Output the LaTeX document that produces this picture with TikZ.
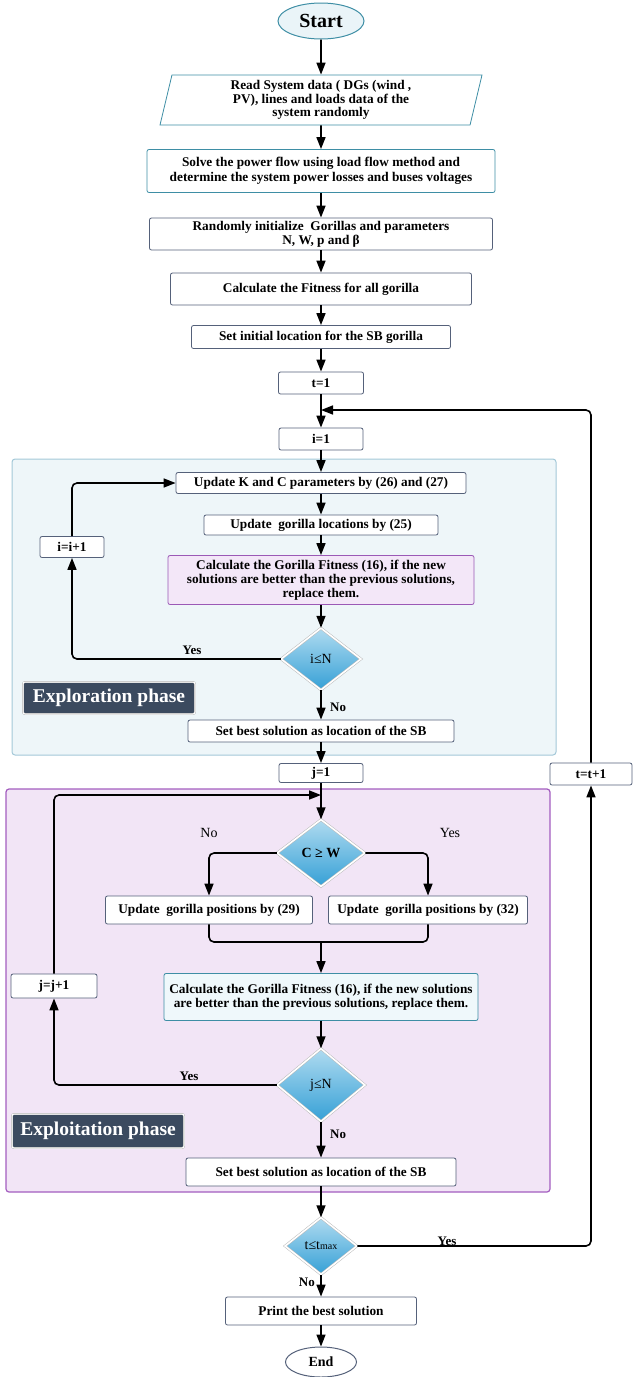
\documentclass[tikz,border=0pt]{standalone}
\usepackage{fontspec}
\setmainfont{Liberation Serif}
\usetikzlibrary{positioning,shapes.geometric,arrows.meta}

\definecolor{boxline}{HTML}{55617A}
\definecolor{tealline}{HTML}{3E8EA5}
\definecolor{startfill}{HTML}{EAF4F8}
\definecolor{purpleline}{HTML}{9B59B6}
\definecolor{purplefill}{HTML}{F3E7F8}
\definecolor{calcfill}{HTML}{EFF8FB}
\definecolor{explfill}{HTML}{EEF6F9}
\definecolor{explline}{HTML}{A3C8D8}
\definecolor{exploitfill}{HTML}{F2E5F6}
\definecolor{exploitline}{HTML}{A35DBF}
\definecolor{phasefill}{HTML}{3B4A5F}
\definecolor{diamtop}{HTML}{B0DBF0}
\definecolor{diambot}{HTML}{35A0D6}

\tikzset{
  procbox/.style={draw=boxline, fill=white, rounded corners=2pt, line width=0.8pt,
    align=center, inner sep=1pt, font=\bfseries\fontsize{13.3}{14.5}\selectfont},
  terminal/.style={ellipse, draw=tealline, fill=startfill, line width=1pt, inner sep=0pt},
  decision/.style={diamond, top color=diamtop, bottom color=diambot, draw=gray!55,
    double=white, double distance=1.6pt, line width=0.5pt, inner sep=0pt,
    font=\fontsize{14}{16}\selectfont},
  phaselabel/.style={fill=phasefill, draw=gray!60, double=white, double distance=1pt,
    rounded corners=2pt, text=white, font=\bfseries\fontsize{19.5}{22}\selectfont},
  flow/.style={line width=1.6pt, -{Triangle[length=12pt,width=9pt]}},
  joinline/.style={line width=1.6pt},
  yesno/.style={font=\bfseries\fontsize{13}{15}\selectfont, inner sep=1pt}
}

\begin{document}
\begin{tikzpicture}[x=1pt,y=-1pt]
\useasboundingbox (0,0) rectangle (633,1377);

% Phase backgrounds
\fill[explfill, draw=explline, line width=1pt, rounded corners=3pt] (12,459) rectangle (556,755);
\fill[exploitfill, draw=exploitline, line width=1.2pt, rounded corners=3pt] (6,789) rectangle (550,1192);

% Initialisation
\node[terminal, minimum width=86pt, minimum height=36pt, font=\bfseries\fontsize{20}{22}\selectfont] (start) at (321,21) {Start};
\node[trapezium, trapezium left angle=73, trapezium right angle=107, trapezium stretches body,
  draw=tealline, fill=white, line width=0.8pt, minimum width=322pt, minimum height=50pt,
  align=center, inner sep=0pt, font=\bfseries\fontsize{13.3}{13.5}\selectfont] (read) at (321,100)
  {Read System data ( DGs (wind ,\\ PV), lines and loads data of the\\ system randomly};
\node[procbox, draw=tealline, minimum width=348pt, minimum height=43pt] (solve) at (321,171)
  {Solve the power flow using load flow method and\\ determine the system power losses and buses voltages};
\node[procbox, minimum width=343pt, minimum height=32pt, font=\bfseries\fontsize{13.3}{13.8}\selectfont] (init) at (321,234)
  {Randomly initialize\ \ Gorillas and parameters\\ N, W, p and β};
\node[procbox, minimum width=301pt, minimum height=32pt] (fit) at (321,289) {Calculate the Fitness for all gorilla};
\node[procbox, minimum width=259pt, minimum height=23pt] (setsb) at (321,337) {Set initial location for the SB gorilla};
\node[procbox, minimum width=85pt, minimum height=22pt] (tone) at (321,383) {t=1};
\node[procbox, minimum width=84pt, minimum height=22pt] (ione) at (321,439) {i=1};

% Exploration phase
\node[procbox, minimum width=290pt, minimum height=21pt] (updk) at (321,483) {Update K and C parameters by (26) and (27)};
\node[procbox, minimum width=234pt, minimum height=20pt] (updloc) at (321,525) {Update\ \ gorilla locations by (25)};
\node[procbox, minimum width=64pt, minimum height=21pt] (iinc) at (72,547) {i=i+1};
\node[procbox, draw=purpleline, fill=purplefill, minimum width=306pt, minimum height=49pt, font=\bfseries\fontsize{13.3}{14}\selectfont] (calci) at (321,580)
  {Calculate the Gorilla Fitness (16), if the new\\ solutions are better than the previous solutions,\\ replace them.};
\node[decision, minimum width=80pt, minimum height=62pt] (di) at (321,659) {i≤N};
\node[phaselabel, minimum width=172pt, minimum height=32pt] (explor) at (109,698) {Exploration phase};
\node[procbox, minimum width=266pt, minimum height=22pt] (bestone) at (321,731) {Set best solution as location of the SB};
\node[yesno, anchor=south] (yesi) at (192,656) {Yes};
\node[yesno, anchor=west] (noi) at (329,707) {No};

% Exploitation phase
\node[procbox, minimum width=84pt, minimum height=19pt] (jone) at (321,773) {j=1};
\node[procbox, minimum width=82pt, minimum height=22pt] (tinc) at (591,774) {t=t+1};
\node[decision, minimum width=88pt, minimum height=67pt, font=\bfseries\fontsize{14}{16}\selectfont] (dc) at (321,853) {C ≥ W};
\node[font=\fontsize{14}{16}\selectfont] (noc) at (209,833) {No};
\node[font=\fontsize{14}{16}\selectfont] (yesc) at (450,833) {Yes};
\node[procbox, minimum width=207pt, minimum height=28pt] (upda) at (209,910) {Update\ \ gorilla positions by (29)};
\node[procbox, minimum width=199pt, minimum height=28pt] (updb) at (428,910) {Update\ \ gorilla positions by (32)};
\node[procbox, draw=tealline, fill=calcfill, minimum width=314pt, minimum height=47pt] (calcj) at (321,997)
  {Calculate the Gorilla Fitness (16), if the new solutions\\ are better than the previous solutions, replace them.};
\node[procbox, minimum width=86pt, minimum height=24pt] (jinc) at (54,986) {j=j+1};
\node[decision, minimum width=88pt, minimum height=73pt] (dj) at (321,1085) {j≤N};
\node[phaselabel, minimum width=172pt, minimum height=34pt] (exploit) at (98,1131) {Exploitation phase};
\node[procbox, minimum width=270pt, minimum height=28pt] (besttwo) at (321,1172) {Set best solution as location of the SB};
\node[yesno, anchor=south] (yesj) at (189,1082) {Yes};
\node[yesno, anchor=west] (noj) at (329,1134) {No};

% Stopping test
\node[decision, minimum width=72pt, minimum height=57pt] (dt) at (321,1246) {t≤t{\fontsize{10}{11}\selectfont max}};
\node[yesno, anchor=south] (yest) at (447,1247) {Yes};
\node[yesno, anchor=east] (not) at (316,1282) {No};
\node[procbox, minimum width=191pt, minimum height=28pt] (print) at (321,1311) {Print the best solution};
\node[terminal, draw=boxline, fill=white, minimum width=71pt, minimum height=30pt, font=\bfseries\fontsize{14}{16}\selectfont] (end) at (321,1362) {End};

% Main flow
\draw[flow] (start.south) -- (read.north);
\draw[flow] (read.south) -- (solve.north);
\draw[flow] (solve.south) -- (init.north);
\draw[flow] (init.south) -- (fit.north);
\draw[flow] (fit.south) -- (setsb.north);
\draw[flow] (setsb.south) -- (tone.north);
\draw[flow] (tone.south) -- (ione.north);
\draw[flow] (ione.south) -- (updk.north);
\draw[flow] (updk.south) -- (updloc.north);
\draw[flow] (updloc.south) -- (calci.north);
\draw[flow] (calci.south) -- (di.north);
\draw[flow] (di.south) -- (bestone.north);
\draw[flow] (bestone.south) -- (jone.north);
\draw[flow] (jone.south) -- (dc.north);
\draw[flow, rounded corners=5pt] (dc.west) -| (upda.north);
\draw[flow, rounded corners=5pt] (dc.east) -| (updb.north);
\coordinate (join) at (321,942);
\draw[joinline, rounded corners=5pt] (upda.south) |- (join) -| (updb.south);
\draw[flow] (join) -- (calcj.north);
\draw[flow] (calcj.south) -- (dj.north);
\draw[flow] (dj.south) -- (besttwo.north);
\draw[flow] (besttwo.south) -- (dt.north);
\draw[flow] (dt.south) -- (print.north);
\draw[flow] (print.south) -- (end.north);

% Loops
\draw[flow, rounded corners=5pt] (di.west) -| (iinc.south);
\draw[flow, rounded corners=5pt] (iinc.north) |- (updk.west);
\coordinate (jin) at (321,795);
\draw[flow, rounded corners=5pt] (dj.west) -| (jinc.south);
\draw[flow, rounded corners=5pt] (jinc.north) |- (jin);
\coordinate (tin) at (321,410);
\draw[flow, rounded corners=5pt] (dt.east) -| (tinc.south);
\draw[flow, rounded corners=5pt] (tinc.north) |- (tin);
\end{tikzpicture}
\end{document}
